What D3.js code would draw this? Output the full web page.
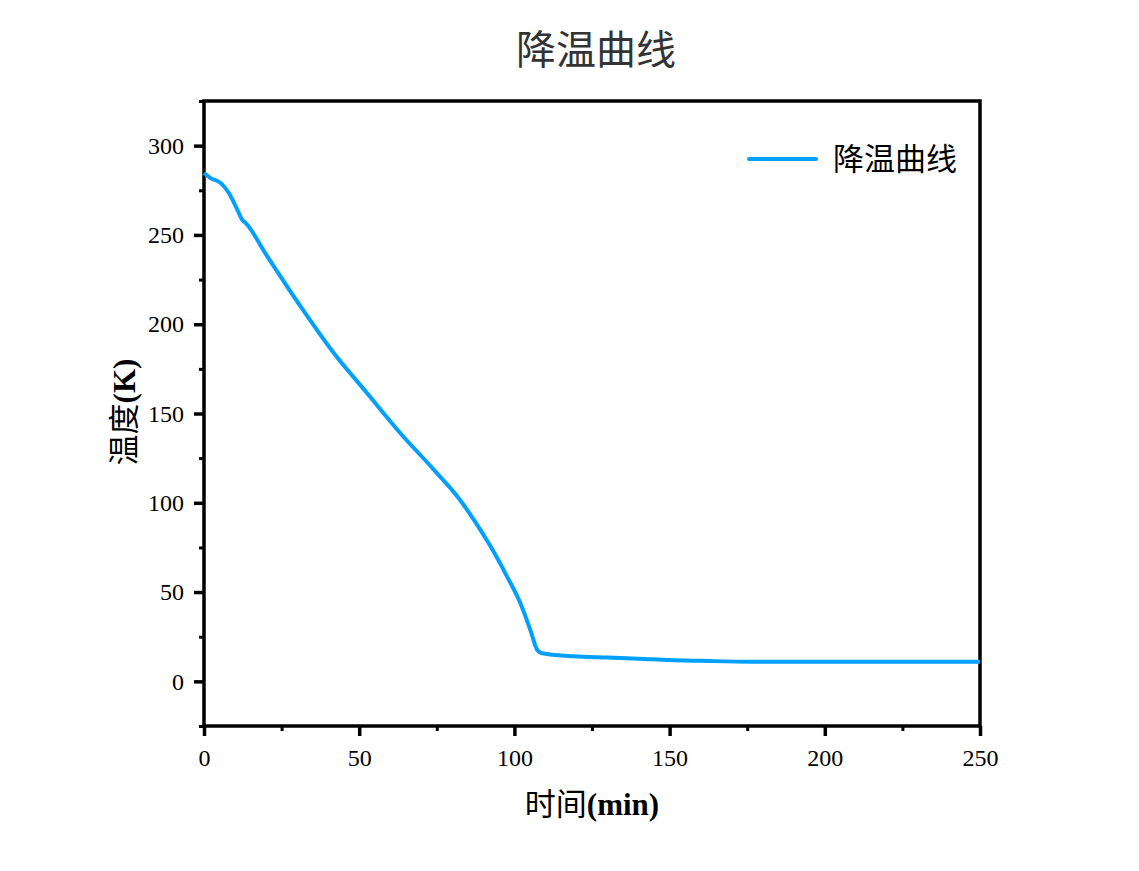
<!DOCTYPE html>
<html>
<head>
<meta charset="utf-8">
<script src="https://cdn.jsdelivr.net/npm/d3@7"></script>
<style>
  body { margin: 0; background: #fff; }
  .tick text { font-family: "Liberation Serif", "Times New Roman", serif; }
</style>
</head>
<body>
<div id="chart"></div>
<script>
// data
var timeMin = [0, 2, 5.4, 8, 10.5, 12.3, 13.4, 20.4, 31.1, 41.8, 52.5, 63.2, 74, 82, 86.9, 92.3, 97.6, 101.9, 105.1, 107.3, 108.5, 110, 119, 130, 140, 150, 160, 176, 200, 250];
var tempK = [284.7, 282, 279, 273.5, 265, 258.5, 256.7, 238, 210, 183.9, 161.5, 139.1, 118.6, 102.7, 90.6, 75.6, 58.8, 43.9, 29, 17.8, 16, 15.5, 14, 13.3, 12.7, 11.9, 11.5, 11.0, 11.0, 11.0];
var xTicks = [0, 50, 100, 150, 200, 250];
var yTicks = [0, 50, 100, 150, 200, 250, 300];
var seriesName = "降温曲线";

var svgWidth = 1139;
var svgHeight = 871;

var margin = { top: 101, right: 159, bottom: 145, left: 204 };
var width = svgWidth - margin.left - margin.right;
var height = svgHeight - margin.top - margin.bottom;

var svg = d3.select("#chart")
  .append("svg")
  .attr("width", svgWidth)
  .attr("height", svgHeight);

var chartGroup = svg.append("g")
  .attr("transform", `translate(${margin.left}, ${margin.top})`);

var xScale = d3.scaleLinear().domain([0, 250]).range([0, width]);
var yScale = d3.scaleLinear().domain([-25, 325]).range([height, 0]);

var data = timeMin.map((t, i) => ({ t: t, v: tempK[i] }));

// title
svg.append("text")
  .attr("x", 596)
  .attr("y", 64)
  .attr("text-anchor", "middle")
  .attr("font-family", "'Noto Sans CJK SC', sans-serif")
  .attr("font-size", 40)
  .attr("fill", "#333")
  .text(seriesName);

// minor ticks
var xMinor = d3.axisBottom(xScale).tickValues(d3.range(25, 250, 50)).tickSize(5).tickFormat("");
var yMinor = d3.axisLeft(yScale).tickValues(d3.range(-25, 326, 50)).tickSize(5).tickFormat("");

chartGroup.append("g")
  .attr("transform", `translate(0, ${height})`)
  .call(xMinor)
  .call(g => g.select(".domain").remove())
  .selectAll("line").attr("stroke", "#000").attr("stroke-width", 3);

chartGroup.append("g")
  .call(yMinor)
  .call(g => g.select(".domain").remove())
  .selectAll("line").attr("stroke", "#000").attr("stroke-width", 3);

// major ticks
var bottomAxis = d3.axisBottom(xScale).tickValues(xTicks).tickSize(10).tickPadding(10);
var leftAxis = d3.axisLeft(yScale).tickValues(yTicks).tickSize(10).tickPadding(10);

var xAxis = chartGroup.append("g")
  .attr("transform", `translate(0, ${height})`)
  .call(bottomAxis);
xAxis.select(".domain").remove();
xAxis.selectAll("line").attr("stroke", "#000").attr("stroke-width", 3.5);
xAxis.selectAll("text").attr("font-size", 24).attr("fill", "#000").attr("dy", "0.85em");

var yAxis = chartGroup.append("g")
  .call(leftAxis);
yAxis.select(".domain").remove();
yAxis.selectAll("line").attr("stroke", "#000").attr("stroke-width", 3.5);
yAxis.selectAll("text").attr("font-size", 24).attr("fill", "#000");

// frame
chartGroup.append("rect")
  .attr("x", 0)
  .attr("y", 0)
  .attr("width", width)
  .attr("height", height)
  .attr("fill", "none")
  .attr("stroke", "#000")
  .attr("stroke-width", 3.5);

// the curve
var line = d3.line()
  .x(d => xScale(d.t))
  .y(d => yScale(d.v))
  .curve(d3.curveMonotoneX);

chartGroup.append("path")
  .datum(data)
  .attr("d", line)
  .attr("fill", "none")
  .attr("stroke", "#00a0ff")
  .attr("stroke-width", 4)
  .attr("stroke-linejoin", "round");

// legend
chartGroup.append("line")
  .attr("x1", 749 - margin.left)
  .attr("x2", 816 - margin.left)
  .attr("y1", 159 - margin.top)
  .attr("y2", 159 - margin.top)
  .attr("stroke", "#00a0ff")
  .attr("stroke-width", 4)
  .attr("stroke-linecap", "round");

chartGroup.append("text")
  .attr("x", 833 - margin.left)
  .attr("y", 170 - margin.top)
  .attr("font-family", "'Noto Sans CJK SC', sans-serif")
  .attr("font-size", 31)
  .attr("fill", "#000")
  .text(seriesName);

// axis titles
var xLabel = svg.append("text")
  .attr("x", 592)
  .attr("y", 815)
  .attr("text-anchor", "middle")
  .attr("font-size", 31)
  .attr("fill", "#000");
xLabel.append("tspan")
  .attr("font-family", "'Noto Sans CJK SC', sans-serif")
  .text("时间");
xLabel.append("tspan")
  .attr("font-family", "'Liberation Serif', serif")
  .attr("font-weight", "bold")
  .text("(min)");

var yLabel = svg.append("text")
  .attr("transform", `translate(135, 412) rotate(-90)`)
  .attr("text-anchor", "middle")
  .attr("font-size", 31)
  .attr("fill", "#000");
yLabel.append("tspan")
  .attr("font-family", "'Noto Sans CJK SC', sans-serif")
  .text("温度");
yLabel.append("tspan")
  .attr("font-family", "'Liberation Serif', serif")
  .attr("font-weight", "bold")
  .text("(K)");
</script>
</body>
</html>
